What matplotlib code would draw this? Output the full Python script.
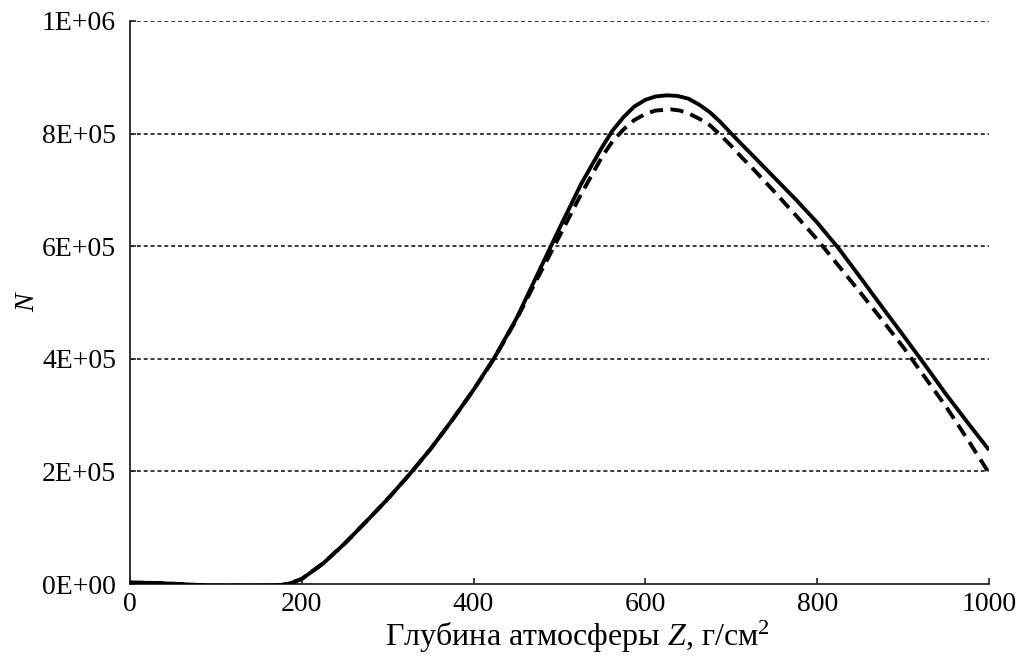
import matplotlib
matplotlib.use("Agg")
import matplotlib.pyplot as plt

# Data
depth_solid = [0, 25, 50, 75, 100, 125, 150, 175, 186, 200, 225, 250, 275, 300, 325, 350, 375,
               400, 425, 450, 475, 500, 525, 550, 562, 575, 587, 600, 612, 625, 637, 650, 662,
               675, 687, 700, 712, 725, 750, 775, 800, 825, 850, 875, 900, 925, 950, 975, 1000]
n_solid = [2500, 2000, 500, -1500, -3000, -3000, -3000, -2000, 1000, 9000, 36700, 72000, 111000,
           151000, 194000, 240000, 291000, 345000, 404000, 472000, 552000, 632000, 710000,
           777000, 806000, 830000, 848000, 860000, 866000, 868000, 867000, 862000, 852000,
           838000, 821000, 800000, 781000, 761000, 722000, 683000, 642000, 596000, 545000,
           493000, 442000, 390000, 337000, 287000, 238000]

depth_dashed = [0, 25, 50, 75, 100, 125, 150, 175, 186, 200, 225, 250, 275, 300, 325, 350, 375,
                400, 425, 450, 475, 500, 525, 550, 562, 575, 587, 600, 612, 630, 640, 650, 662,
                675, 687, 700, 712, 725, 750, 775, 800, 825, 850, 875, 900, 925, 950, 975, 1000]
n_dashed = [2500, 2000, 500, -1500, -3000, -3000, -3000, -2000, 1000, 9000, 36700, 72000, 111000,
            151000, 194000, 240000, 291000, 345000, 403000, 470000, 545000, 618000, 692000,
            760000, 787000, 808000, 824000, 835000, 841000, 843000, 841000, 836000, 827000,
            815000, 798000, 778000, 758000, 738000, 697000, 655000, 612000, 565000, 518000,
            470000, 421000, 368000, 315000, 257000, 197000]

x_ticks = [0, 200, 400, 600, 800, 1000]
y_ticks = [0, 200000, 400000, 600000, 800000, 1000000]
y_tick_labels = ["0E+00", "2E+05", "4E+05", "6E+05", "8E+05", "1E+06"]

plt.rcParams['font.family'] = ['Liberation Serif', 'DejaVu Serif']
plt.rcParams['mathtext.fontset'] = 'custom'
plt.rcParams['mathtext.rm'] = 'Liberation Serif'
plt.rcParams['mathtext.it'] = 'Liberation Serif:italic'

fig = plt.figure(figsize=(10.2, 6.62), dpi=100)
ax = fig.add_axes([130/1020, 1 - 584/662, (989-130)/1020, (584-21)/662])

for yv in y_ticks[1:]:
    ax.axhline(yv, color='#2a2a2a', lw=1.3, linestyle=(0, (2.2, 1.6)), zorder=1)

ax.plot(depth_solid, n_solid, color='black', lw=2.8, solid_capstyle='butt',
        solid_joinstyle='round', zorder=3)
ax.plot(depth_dashed, n_dashed, color='black', lw=2.8, linestyle=(0, (3.4, 1.9)),
        dash_capstyle='butt', dash_joinstyle='round', zorder=3)

ax.set_xlim(0, 1000)
ax.set_ylim(0, 1000000)
ax.set_xticks(x_ticks)
ax.set_xticklabels([str(v) for v in x_ticks])
ax.set_yticks(y_ticks)
ax.set_yticklabels(y_tick_labels)

for s in ['top', 'right']:
    ax.spines[s].set_visible(False)
for s in ['left', 'bottom']:
    ax.spines[s].set_linewidth(1.3)
    ax.spines[s].set_color('#222222')

ax.tick_params(axis='both', direction='in', length=4, width=1.2, labelsize=20, color='#222222')
ax.tick_params(axis='x', pad=6)
ax.tick_params(axis='y', pad=10)

ax.set_xlabel(r"Глубина атмосферы $\mathit{Z}$, г/см$^{\mathrm{2}}$", fontsize=23)
ax.xaxis.set_label_coords(0.521, -0.062)
ax.xaxis.label.set_va('top')
ax.set_ylabel("N", fontsize=20, style='italic', labelpad=1)

fig.savefig("out.png", dpi=100)
